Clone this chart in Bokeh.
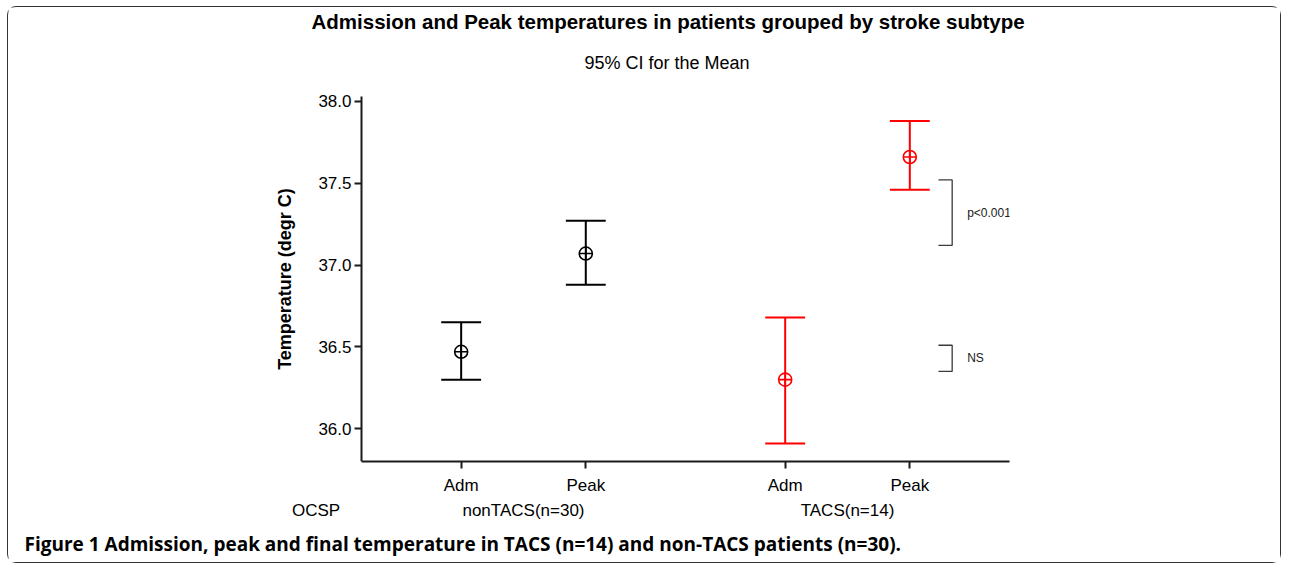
from bokeh.plotting import figure
from bokeh.models import (ColumnDataSource, LinearAxis, FixedTicker, PrintfTickFormatter,
                          Label, Range1d, Title)
from bokeh.embed import file_html
from bokeh.resources import INLINE

# ---------------- data ----------------
groups = ["nonTACS(n=30)", "TACS(n=14)"]
measures = ["Adm", "Peak"]
group_colors = ["#000000", "#ff0000"]
mean_vals = [36.47, 37.07, 36.30, 37.66]
lower_vals = [36.30, 36.88, 35.91, 37.46]
upper_vals = [36.65, 37.27, 36.68, 37.88]
y_ticks = [36.0, 36.5, 37.0, 37.5, 38.0]
bracket_low = [37.12, 36.35]
bracket_high = [37.52, 36.51]
bracket_text = ["p<0.001", "NS"]

title_text = "Admission and Peak temperatures in patients grouped by stroke subtype"
subtitle_text = "95% CI for the Mean"
y_label = "Temperature (degr C)"
row_label = "OCSP"
caption_text = "Figure 1 Admission, peak and final temperature in TACS (n=14) and non-TACS patients (n=30)."

# ---------------- layout constants ----------------
GROUP_GAP = 0.6
CAP = 0.16
FONT = "Liberation Sans"
AXIS_X = -0.8          # where the value axis crosses the category axis
ROW_LABEL_X = -1.164   # position of the "OCSP" row label
X0, X1 = -1.538, 4.4
Y0, Y1 = 35.8, 38.066
Y_AXIS_TOP = 38.03

xs, cols, sub_labels = [], [], []
for gi, g in enumerate(groups):
    for mi, m in enumerate(measures):
        xs.append(gi * (len(measures) + GROUP_GAP) + mi)
        cols.append(group_colors[gi])
        sub_labels.append(m)
group_centers = []
for gi in range(len(groups)):
    pts = xs[gi * len(measures):(gi + 1) * len(measures)]
    group_centers.append(sum(pts) / len(pts))

src = ColumnDataSource(dict(
    x=xs, mean=mean_vals, lower=lower_vals, upper=upper_vals, color=cols,
    cl=[x - CAP for x in xs], cr=[x + CAP for x in xs],
))

W, H = 1274, 557
p = figure(width=W, height=H, output_backend="svg", toolbar_location=None,
           x_range=Range1d(X0, X1), y_range=Range1d(Y0, Y1),
           x_axis_type=None, y_axis_type=None,
           min_border_left=261, min_border_right=273, min_border_top=75, min_border_bottom=103)
p.styles = {"border": "1px solid #333333", "border-radius": "9px",
            "margin-left": "7px", "margin-top": "6px"}
p.outline_line_color = None
p.xgrid.visible = False
p.ygrid.visible = False
p.background_fill_color = "white"
p.border_fill_color = "white"

# titles
p.add_layout(Title(text=subtitle_text, text_font=FONT, text_font_size="18px",
                   text_font_style="normal", align="left", offset=315, text_color="#000000",
                   standoff=36), "above")
p.add_layout(Title(text=title_text, text_font=FONT, text_font_size="20.5px",
                   text_font_style="bold", align="left", offset=42, text_color="#000000",
                   standoff=0), "above")

# y axis (drawn at the crossing point AXIS_X)
yax = LinearAxis(ticker=FixedTicker(ticks=y_ticks), formatter=PrintfTickFormatter(format="%.1f"),
                 fixed_location=AXIS_X, bounds=(Y0, Y_AXIS_TOP))
yax.axis_label = y_label
yax.axis_label_text_font = FONT
yax.axis_label_text_font_style = "bold"
yax.axis_label_text_font_size = "18px"
yax.axis_label_text_color = "#000000"
yax.axis_label_standoff = 20
yax.major_label_text_font = FONT
yax.major_label_text_font_size = "17px"
yax.major_label_text_color = "#000000"
yax.major_label_standoff = 3
yax.major_tick_out = 7
yax.major_tick_in = 0
yax.minor_tick_line_color = None
yax.axis_line_width = 2
yax.major_tick_line_width = 2
yax.axis_line_color = "#1a1a1a"
yax.major_tick_line_color = "#1a1a1a"
p.add_layout(yax, "left")

# x axis (measures)
xax = LinearAxis(ticker=FixedTicker(ticks=xs), bounds=(AXIS_X, X1))
xax.major_label_overrides = {x: lab for x, lab in zip(xs, sub_labels)}
xax.major_label_text_font = FONT
xax.major_label_text_font_size = "17px"
xax.major_label_text_color = "#000000"
xax.major_label_standoff = 7
xax.major_tick_out = 7
xax.major_tick_in = 0
xax.minor_tick_line_color = None
xax.axis_line_width = 2
xax.major_tick_line_width = 2
xax.axis_line_color = "#1a1a1a"
xax.major_tick_line_color = "#1a1a1a"
p.add_layout(xax, "below")

# x axis (groups), with the row label in front
g_ticks = [ROW_LABEL_X] + group_centers
g_labels = [row_label] + groups
gax = LinearAxis(ticker=FixedTicker(ticks=g_ticks))
gax.major_label_overrides = {c: g for c, g in zip(g_ticks, g_labels)}
gax.major_label_text_font = FONT
gax.major_label_text_font_size = "17px"
gax.major_label_text_color = "#000000"
gax.major_label_standoff = 3
gax.major_tick_out = 0
gax.major_tick_in = 0
gax.axis_line_color = None
gax.major_tick_line_color = None
gax.minor_tick_line_color = None
p.add_layout(gax, "below")

# caption
p.add_layout(Title(text=caption_text, text_font="Open Sans", text_font_size="19px",
                   text_font_style="bold", align="left", offset=-245, text_color="#000000",
                   standoff=12), "below")

# error bars
p.segment(x0="x", y0="lower", x1="x", y1="upper", source=src, line_color="color", line_width=2)
p.segment(x0="cl", y0="upper", x1="cr", y1="upper", source=src, line_color="color", line_width=2)
p.segment(x0="cl", y0="lower", x1="cr", y1="lower", source=src, line_color="color", line_width=2)
p.scatter(x="x", y="mean", source=src, marker="circle_cross", size=13,
          fill_color=None, line_color="color", line_width=1.6)

# significance brackets
bx = xs[-1] + 0.34
for lo, hi, txt in zip(bracket_low, bracket_high, bracket_text):
    p.line(x=[bx - 0.11, bx, bx, bx - 0.11], y=[hi, hi, lo, lo], line_color="#3a3a3a", line_width=1.3)
    p.add_layout(Label(x=bx + 0.12, y=(lo + hi) / 2, text=txt, text_font=FONT,
                       text_font_size="12px", text_baseline="middle", text_align="left",
                       text_color="#1a1a1a"))

open("out.html", "w").write(file_html(p, INLINE))
